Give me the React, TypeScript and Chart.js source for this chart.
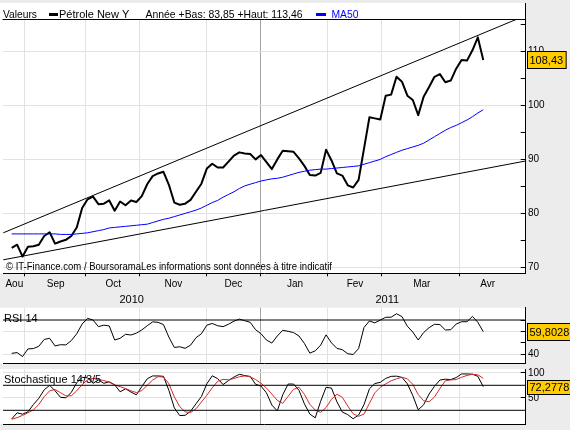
import React, { useEffect, useRef } from "react";
import { Chart, registerables } from "chart.js";
Chart.register(...registerables);

const FONT = '"Liberation Sans", Arial, sans-serif';

// Samples (every ~2 trading days) from Aug 2010 to late Mar 2011
const price = [
  73.6, 74.2, 72.0, 73.8, 73.9, 74.2, 75.8, 76.5, 74.4, 74.8,
  75.1, 75.8, 77.4, 81.0, 82.6, 83.1, 81.7, 81.8, 82.4, 80.5,
  82.2, 81.5, 82.4, 82.1, 83.2, 85.4, 86.9, 87.4, 87.7, 85.3,
  82.0, 81.6, 81.8, 82.5, 84.0, 85.5, 88.3, 89.2, 88.5, 88.5,
  89.6, 90.7, 91.3, 91.1, 91.0, 90.0, 90.8, 89.5, 88.2, 90.0,
  91.6, 91.5, 91.4, 90.2, 88.8, 87.1, 87.0, 87.5, 91.8, 89.8,
  87.4, 87.0, 85.2, 84.8, 86.2, 92.0, 97.8, 97.6, 97.4, 101.8,
  102.0, 105.3, 104.4, 101.8, 101.0, 98.2, 101.6, 103.4, 105.3, 105.8,
  104.3, 104.6, 106.8, 108.4, 108.3, 110.2, 112.6, 108.43,
];

const ma50 = [
  76.2, 76.2, 76.2, 76.2, 76.2, 76.2, 76.2, 76.2, 76.2, 76.1,
  76.1, 76.1, 76.2, 76.3, 76.4, 76.6, 76.8, 77.0, 77.3, 77.4,
  77.5, 77.6, 77.7, 77.8, 77.9, 78.0, 78.3, 78.6, 78.9, 79.1,
  79.4, 79.7, 80.0, 80.3, 80.6, 81.0, 81.5, 82.0, 82.4, 83.0,
  83.5, 84.0, 84.6, 85.1, 85.4, 85.7, 86.0, 86.2, 86.4, 86.5,
  86.7, 87.0, 87.3, 87.6, 87.8, 88.0, 88.1, 88.2, 88.2, 88.3,
  88.4, 88.5, 88.6, 88.7, 88.8, 89.1, 89.4, 89.7, 90.0, 90.5,
  90.9, 91.3, 91.7, 92.0, 92.3, 92.6, 93.0, 93.6, 94.2, 94.8,
  95.4, 95.9, 96.3, 96.8, 97.3, 97.9, 98.6, 99.2,
];

const rsi = [
  40.8, 41.5, 38.0, 44.7, 45.0, 47.0, 53.0, 54.0, 47.3, 48.4,
  48.2, 52.0, 58.0, 66.5, 71.5, 70.0, 64.2, 65.5, 64.8, 52.5,
  54.0, 57.5, 56.9, 58.5, 61.3, 65.0, 68.4, 68.0, 66.0, 55.0,
  46.0, 46.6, 45.2, 48.0, 54.5, 58.0, 65.5, 67.0, 65.0, 64.2,
  66.3, 69.0, 70.8, 69.4, 68.0, 61.5, 58.0, 52.5, 49.8, 56.0,
  61.0, 60.1, 59.0, 56.0, 49.5, 41.0, 43.0, 48.0, 57.0, 50.0,
  45.2, 44.0, 40.5, 39.8, 45.0, 63.5, 69.2, 67.5, 70.0, 72.4,
  72.5, 75.5, 73.0, 64.5, 59.5, 52.5, 59.0, 63.3, 66.3, 66.0,
  61.3, 61.5, 66.5, 68.5, 68.5, 73.2, 68.0, 59.8028,
];

const stochK = [
  7.7, 20, 17.2, 22, 36.5, 49, 66, 75, 64, 51,
  50, 61, 80, 91, 90, 79, 85.7, 79, 82, 76,
  62, 68, 61.5, 56, 72.3, 88, 93.7, 93.7, 93, 65,
  30, 14.5, 15, 23, 38, 52.5, 78, 94, 88.5, 76.5,
  84.5, 91.5, 97, 94.5, 92.7, 77, 73.5, 60, 35.5, 23.7,
  56, 77.5, 77.5, 65, 38, 17.5, 10, 43, 71, 69.5,
  42, 21.5, 16.3, 8, 15.5, 36.5, 68, 78.5, 81, 88.8,
  92.9, 93.3, 90.8, 78, 54.5, 26, 36, 57.5, 73, 85.5,
  87.2, 86.5, 90.5, 97.7, 97.7, 97.2, 93, 72.2778,
];

const stochD = [
  7, 10.3, 14.8, 20, 25.8, 36.6, 52.3, 64, 66.5, 60.3,
  53.9, 54, 64, 76.5, 86, 89, 86.5, 84.6, 81, 75.8,
  72.3, 68.5, 64, 60.5, 64.5, 75, 85.5, 92.3, 91.5, 78,
  52, 32.5, 22, 20.5, 28, 41.5, 55, 70, 83, 86.8,
  86, 88.5, 92, 93.7, 92, 86.5, 79, 69.5, 57.5, 45,
  39, 53, 67, 71, 57, 37, 25.5, 21, 30.5, 47,
  57, 51, 33.5, 18, 13, 17.5, 39, 60, 71, 78,
  84, 88, 91, 88, 77, 56.5, 44, 42, 51.5, 68.5,
  84, 85.7, 86.5, 91, 94.8, 97, 96, 89,
];

// Trend channel end points [sample index, value]
const upperTrend = [[-1.55, 76.4], [93.5, 116.1]];
const lowerTrend = [[-1.55, 71.4], [94.8, 89.7]];

// Axis positions (in sample index units)
const monthStarts = [2.32, 13.65, 23.54, 35.98, 45.87, 58.3, 68.27, 82.66];
const yearBreakIndex = 4;
const monthLabels = ["Aou", "Sep", "Oct", "Nov", "Dec", "Jan", "Fev", "Mar", "Avr"];
const monthCenters = [0.48, 8.12, 18.75, 29.82, 40.89, 52.27, 63.34, 75.65, 87.82];
const yearLabels = ["2010", "2011"];
const yearCenters = [22.14, 69.3];

const priceTicks = [70, 75, 80, 85, 90, 95, 100, 105, 110, 115];
const priceLabels = [70, 80, 90, 100, 110];
const rsiTicks = [40, 50, 60, 70];
const rsiLabels = [40, 60];
const rsiLevels = [70];
const stochTicks = [50, 100];
const stochLevels = [75, 25];

const headerTitle = "Valeurs";
const seriesName = "Pétrole New Y";
const yearRange = "Année +Bas: 83,85 +Haut: 113,46";
const maName = "MA50";
const watermark = "© IT-Finance.com / BoursoramaLes informations sont données à titre indicatif";
const rsiName = "RSI 14";
const stochName = "Stochastique 14/3/5";

const X_MIN = -1.605;
const X_MAX = 94.83;
const AXIS_W = 44.3;
const GRID = "#e2e2e2";
const YEAR_GRID = "#a4a4a4";
const BOX = "#ffcc00";

const toXY = (arr: number[]) => arr.map((v, i) => ({ x: i, y: v }));
const pairXY = (arr: number[][]) => arr.map((p) => ({ x: p[0], y: p[1] }));
const levelXY = (v: number) => [{ x: X_MIN, y: v }, { x: X_MAX, y: v }];
const fmt = (v: number, d: number) => v.toFixed(d).replace(".", ",");

const noPad = (s: any) => {
  s.paddingTop = 0;
  s.paddingBottom = 0;
  s.paddingLeft = 0;
  s.paddingRight = 0;
};

function xGridAxis(height: number, drawTicks: boolean) {
  return {
    type: "linear",
    position: "bottom",
    min: X_MIN,
    max: X_MAX,
    weight: 0,
    afterBuildTicks: (s: any) => {
      s.ticks = monthStarts.map((value) => ({ value }));
    },
    ticks: { display: false },
    grid: {
      color: (c: any) => (c.tick && c.tick.value === monthStarts[yearBreakIndex] ? YEAR_GRID : GRID),
      tickColor: "#000",
      tickLength: 3,
      drawTicks,
    },
    border: { display: true, color: "#000" },
    afterFit: (s: any) => {
      s.height = height;
      noPad(s);
    },
  };
}

function xLabelAxis(centers: number[], labels: string[], weight: number, height: number, padding: number, size: number) {
  return {
    type: "linear",
    position: "bottom",
    min: X_MIN,
    max: X_MAX,
    weight,
    afterBuildTicks: (s: any) => {
      s.ticks = centers.map((value) => ({ value }));
    },
    ticks: {
      autoSkip: false,
      maxRotation: 0,
      minRotation: 0,
      padding,
      color: "#000",
      font: { family: FONT, size },
      callback: (_v: any, i: number) => labels[i],
    },
    grid: { display: false, drawTicks: false },
    border: { display: false },
    afterFit: (s: any) => {
      s.height = height;
      noPad(s);
    },
  };
}

function yAxis(min: number, max: number, ticks: number[], labels: number[], gridAt: number[]) {
  return {
    position: "right",
    min,
    max,
    afterBuildTicks: (s: any) => {
      s.ticks = ticks.map((value) => ({ value }));
    },
    ticks: {
      padding: 7.3,
      color: "#000",
      font: { family: FONT, size: 10 },
      callback: (v: any) => (labels.includes(v) ? String(v) : ""),
    },
    grid: {
      color: (c: any) => (c.tick && gridAt.includes(c.tick.value) ? GRID : "rgba(0,0,0,0)"),
      tickColor: "#000",
      tickLength: -5,
    },
    border: { color: "#000" },
    afterFit: (s: any) => {
      s.width = AXIS_W;
      noPad(s);
    },
  };
}

function valueBox(chart: any, value: number, text: string, h: number) {
  const { ctx, chartArea } = chart;
  const y = chart.scales.y.getPixelForValue(value);
  ctx.save();
  ctx.font = `11px ${FONT}`;
  const w = ctx.measureText(text).width + 5;
  const x = Math.round(chartArea.right) + 1.5;
  const top = Math.round(y - h / 2) + 0.5;
  ctx.fillStyle = BOX;
  ctx.fillRect(x, top, w, h);
  ctx.strokeStyle = "#000";
  ctx.lineWidth = 1;
  ctx.strokeRect(x, top, w, h);
  ctx.fillStyle = "#000";
  ctx.textBaseline = "middle";
  ctx.textAlign = "left";
  ctx.fillText(text, x + 2, top + h / 2 + 0.5);
  ctx.restore();
}

const common = {
  responsive: false,
  animation: false,
  events: [],
  plugins: { legend: { display: false }, tooltip: { enabled: false } },
  elements: { point: { radius: 0 }, line: { tension: 0 } },
};

export default function App() {
  const mainRef = useRef<HTMLCanvasElement>(null);
  const rsiRef = useRef<HTMLCanvasElement>(null);
  const stoRef = useRef<HTMLCanvasElement>(null);

  useEffect(() => {
    const mainPlugin = {
      id: "mainDecor",
      beforeDraw(chart: any) {
        const { ctx, chartArea: a } = chart;
        ctx.save();
        ctx.fillStyle = "#fff";
        ctx.fillRect(0, 3, Math.round(a.right), a.bottom - 3);
        ctx.restore();
      },
      afterDatasetsDraw(chart: any) {
        const { ctx } = chart;
        ctx.save();
        ctx.fillStyle = "#000";
        ctx.font = `10px ${FONT}`;
        ctx.textBaseline = "middle";
        ctx.fillText(watermark, 6, 267, 326);
        ctx.restore();
      },
      afterDraw(chart: any) {
        const { ctx, chartArea: a } = chart;
        ctx.save();
        ctx.strokeStyle = "#000";
        ctx.lineWidth = 1;
        ctx.beginPath();
        ctx.moveTo(2.5, 19.5);
        ctx.lineTo(Math.round(a.right), 19.5);
        ctx.stroke();
        ctx.beginPath();
        ctx.moveTo(Math.round(a.right) - 0.5, 3);
        ctx.lineTo(Math.round(a.right) - 0.5, a.top);
        ctx.stroke();
        ctx.font = `11px ${FONT}`;
        ctx.textBaseline = "middle";
        ctx.fillStyle = "#000";
        ctx.fillText(headerTitle, 3, 14.5, 34);
        ctx.fillRect(49, 13, 9, 3);
        ctx.fillText(seriesName, 59, 14.5, 71);
        ctx.fillText(yearRange, 145.5, 14.5, 157);
        ctx.fillStyle = "#0000ff";
        ctx.fillRect(316, 13, 10, 3);
        ctx.fillText(maName, 331.5, 14.5, 27);
        ctx.restore();
        valueBox(chart, price[price.length - 1], fmt(price[price.length - 1], 2), 17);
      },
    };

    const main = new Chart(mainRef.current as HTMLCanvasElement, {
      type: "line",
      data: {
        datasets: [
          { data: pairXY(upperTrend), borderColor: "#000", borderWidth: 1 },
          { data: pairXY(lowerTrend), borderColor: "#000", borderWidth: 1 },
          { data: toXY(ma50), borderColor: "#0000ff", borderWidth: 1 },
          { data: toXY(price), borderColor: "#000", borderWidth: 2, borderJoinStyle: "round" },
        ],
      },
      options: {
        ...common,
        layout: { padding: { left: 3, top: 19.3, right: 0, bottom: 0 } },
        scales: {
          x: xGridAxis(3, true),
          xm: xLabelAxis(monthCenters, monthLabels, 1, 14, 2.4, 10),
          xy: xLabelAxis(yearCenters, yearLabels, 2, 14.7, 3, 11),
          y: yAxis(68.9, 115.95, priceTicks, priceLabels, priceLabels),
        },
      } as any,
      plugins: [mainPlugin],
    } as any);

    const panelPlugin = (name: string, labelY: number, value: number, text: string, h: number) => ({
      id: "panelDecor",
      beforeDraw(chart: any) {
        const { ctx, chartArea: a } = chart;
        ctx.save();
        ctx.fillStyle = "#fff";
        ctx.fillRect(0, a.top, Math.round(a.right), a.bottom - a.top);
        ctx.restore();
      },
      afterDraw(chart: any) {
        const { ctx } = chart;
        ctx.save();
        ctx.fillStyle = "#000";
        ctx.font = `11px ${FONT}`;
        ctx.textBaseline = "middle";
        ctx.fillText(name, 4, labelY);
        ctx.restore();
        valueBox(chart, value, text, h);
      },
    });

    const rsiChart = new Chart(rsiRef.current as HTMLCanvasElement, {
      type: "line",
      data: {
        datasets: [
          ...rsiLevels.map((v) => ({ data: levelXY(v), borderColor: "#000", borderWidth: 1 })),
          { data: toXY(rsi), borderColor: "#000", borderWidth: 1 },
        ],
      },
      options: {
        ...common,
        layout: { padding: { left: 3, top: 2.7, right: 0, bottom: 0 } },
        scales: {
          x: xGridAxis(2.7, false),
          y: yAxis(32.1, 80.8, rsiTicks, rsiLabels, rsiLabels),
        },
      } as any,
      plugins: [panelPlugin(rsiName, 13.5, rsi[rsi.length - 1], fmt(rsi[rsi.length - 1], 4), 17)],
    } as any);

    const stoChart = new Chart(stoRef.current as HTMLCanvasElement, {
      type: "line",
      data: {
        datasets: [
          ...stochLevels.map((v) => ({ data: levelXY(v), borderColor: "#000", borderWidth: 1 })),
          { data: toXY(stochD), borderColor: "#d42a2a", borderWidth: 1 },
          { data: toXY(stochK), borderColor: "#000", borderWidth: 1 },
        ],
      },
      options: {
        ...common,
        layout: { padding: { left: 3, top: 3, right: 0, bottom: 0 } },
        scales: {
          x: xGridAxis(6, false),
          y: yAxis(-2.4, 107.6, stochTicks, stochTicks, stochTicks),
        },
      } as any,
      plugins: [panelPlugin(stochName, 14, stochK[stochK.length - 1], fmt(stochK[stochK.length - 1], 4), 14)],
    } as any);

    return () => {
      main.destroy();
      rsiChart.destroy();
      stoChart.destroy();
    };
  }, []);

  const abs = (top: number, h: number): React.CSSProperties => ({
    position: "absolute",
    left: 0,
    top,
    width: 570,
    height: h,
    display: "block",
  });

  return (
    <div
      style={{
        position: "absolute",
        left: 0,
        top: 0,
        width: 570,
        height: 430,
        background: "#ececec",
        overflow: "hidden",
      }}
    >
      <canvas ref={mainRef} width={570} height={305} style={abs(0, 305)} />
      <canvas ref={rsiRef} width={570} height={61} style={abs(305, 61)} />
      <canvas ref={stoRef} width={570} height={64} style={abs(366, 64)} />
    </div>
  );
}
